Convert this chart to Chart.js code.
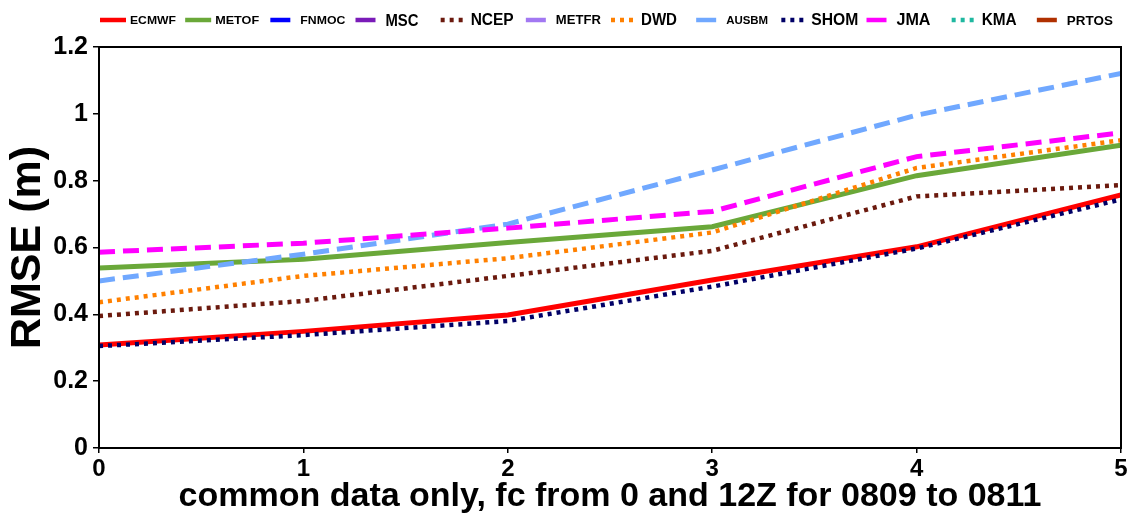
<!DOCTYPE html>
<html>
<head>
<meta charset="utf-8">
<script src="https://cdn.jsdelivr.net/npm/chart.js@4.4.0/dist/chart.umd.min.js"></script>
<style>
  html, body { margin: 0; padding: 0; background: #fff; }
  #wrap { width: 1130px; height: 515px; }
</style>
</head>
<body>
<div id="wrap"><canvas id="rmseChart"></canvas></div>
<script>
// forecast day on the x axis, RMSE (m) per centre
const fcDays = [0, 1, 2, 3, 4, 5];
const centres = ['ECMWF', 'METOF', 'FNMOC', 'MSC', 'NCEP', 'METFR', 'DWD', 'AUSBM', 'SHOM', 'JMA', 'KMA', 'PRTOS'];

const ecmwf = [0.308, 0.349, 0.398, 0.503, 0.602, 0.757];
const metof = [0.539, 0.565, 0.615, 0.662, 0.815, 0.906];
const fnmoc = [];
const msc   = [];
const ncep  = [0.395, 0.440, 0.515, 0.590, 0.753, 0.787];
const metfr = [];
const dwd   = [0.436, 0.515, 0.568, 0.645, 0.838, 0.921];
const ausbm = [0.500, 0.580, 0.670, 0.832, 0.996, 1.121];
const shom  = [0.305, 0.338, 0.380, 0.483, 0.597, 0.744];
const jma   = [0.586, 0.613, 0.658, 0.708, 0.872, 0.943];
const kma   = [];
const prtos = [];

const yTicks = [0, 0.2, 0.4, 0.6, 0.8, 1, 1.2];
const xTitle = 'common data only, fc from 0 and 12Z for 0809 to 0811';
const yTitle = 'RMSE (m)';

const seriesValues = [ecmwf, metof, fnmoc, msc, ncep, metfr, dwd, ausbm, shom, jma, kma, prtos];

const DOT = [4, 5];
const DASH = [16, 8];
const styles = {
  ECMWF: { color: '#ff0000', dash: [],   legendDash: [] },
  METOF: { color: '#6aa839', dash: [],   legendDash: [] },
  FNMOC: { color: '#0000ff', dash: DASH, legendDash: [20, 6] },
  MSC:   { color: '#7a1bb8', dash: DASH, legendDash: [20, 6] },
  NCEP:  { color: '#6b1a0e', dash: DOT,  legendDash: DOT },
  METFR: { color: '#a278f2', dash: DASH, legendDash: [20, 6] },
  DWD:   { color: '#ff8000', dash: DOT,  legendDash: DOT },
  AUSBM: { color: '#70a8ff', dash: DASH, legendDash: [20, 6] },
  SHOM:  { color: '#000066', dash: DOT,  legendDash: DOT },
  JMA:   { color: '#ff00ff', dash: DASH, legendDash: [20, 6] },
  KMA:   { color: '#1fb8a0', dash: DOT,  legendDash: DOT },
  PRTOS: { color: '#b03000', dash: DASH, legendDash: [20, 6] }
};

// legend text in the original is squeezed / stretched to fit each cell
const legendFontSize = [10, 11, 11, 17, 16, 12, 16, 10, 16, 16, 16, 13];
const legendTextWidth = [46, 44, 45, 33, 43, 45, 36, 42, 47, 34, 35, 46];

const FONT = "'Liberation Sans', Arial, sans-serif";

const datasets = centres.map((name, i) => {
  const st = styles[name];
  const dotted = st.dash === DOT;
  return {
    label: name,
    data: seriesValues[i].map((v, j) => ({ x: fcDays[j], y: v })),
    borderColor: st.color,
    backgroundColor: st.color,
    borderWidth: dotted ? 4.5 : 5,
    borderDash: st.dash,
    borderCapStyle: 'butt',
    legendDash: st.legendDash,
    pointRadius: 0,
    tension: 0,
    fill: false,
    order: centres.length - i
  };
});

const topLegend = {
  id: 'topLegend',
  afterDraw(chart) {
    const { ctx, chartArea } = chart;
    const cell = (chartArea.right - chartArea.left) / centres.length;
    chart.data.datasets.forEach((ds, i) => {
      const x0 = chartArea.left + 1 + cell * i;
      const y = 20;
      ctx.save();
      ctx.strokeStyle = ds.borderColor;
      ctx.lineWidth = 4.5;
      ctx.lineCap = 'butt';
      ctx.setLineDash(ds.legendDash);
      ctx.beginPath();
      ctx.moveTo(x0, y);
      ctx.lineTo(x0 + 26, y);
      ctx.stroke();
      ctx.restore();

      ctx.save();
      ctx.font = `bold ${legendFontSize[i]}px ${FONT}`;
      ctx.fillStyle = '#000';
      ctx.textBaseline = 'middle';
      const w = ctx.measureText(ds.label).width;
      ctx.translate(x0 + 30, y + 1);
      ctx.scale(legendTextWidth[i] / w, 1);
      ctx.fillText(ds.label, 0, 0);
      ctx.restore();
    });
  }
};

const frameBox = {
  id: 'frameBox',
  afterDatasetsDraw(chart) {
    const { ctx, chartArea } = chart;
    ctx.save();
    ctx.strokeStyle = '#000';
    ctx.lineWidth = 2;
    ctx.strokeRect(chartArea.left, chartArea.top, chartArea.right - chartArea.left, chartArea.bottom - chartArea.top);
    ctx.restore();
  }
};

const ctx = document.getElementById('rmseChart').getContext('2d');
const rmseChart = new Chart(ctx, {
  type: 'line',
  data: { datasets },
  plugins: [topLegend, frameBox],
  options: {
    responsive: true, maintainAspectRatio: false,
    animation: false,
    devicePixelRatio: 1,
    layout: { padding: { top: 47, right: 9, left: 0, bottom: 0 } },
    plugins: { legend: { display: false }, tooltip: { enabled: false } },
    scales: {
      x: {
        type: 'linear',
        min: fcDays[0], max: fcDays[fcDays.length - 1],
        afterBuildTicks: (scale) => { scale.ticks = fcDays.map(v => ({ value: v })); },
        afterFit: (scale) => { scale.height = 67; },
        grid: { display: true, drawOnChartArea: false, drawTicks: true, tickLength: 5, color: '#000', lineWidth: 1.5 },
        border: { display: true, color: '#000', width: 2 },
        ticks: { color: '#000', padding: 2, maxRotation: 0, font: { family: FONT, size: 24, weight: 'bold' } },
        title: {
          display: true, text: xTitle, color: '#000',
          font: { family: FONT, size: 34, weight: 'bold', lineHeight: 1 },
          padding: { top: 0, bottom: 1 }
        }
      },
      y: {
        type: 'linear',
        min: yTicks[0], max: yTicks[yTicks.length - 1],
        afterBuildTicks: (scale) => { scale.ticks = yTicks.map(v => ({ value: v })); },
        afterFit: (scale) => { scale.width = 99; },
        grid: { display: true, drawOnChartArea: false, drawTicks: true, tickLength: 6, color: '#000', lineWidth: 1.5 },
        border: { display: true, color: '#000', width: 2 },
        ticks: {
          color: '#000', padding: 5, font: { family: FONT, size: 25, weight: 'bold' },
          callback: (v) => String(Number(v.toFixed(1)))
        },
        title: {
          display: true, text: yTitle, color: '#000',
          font: { family: FONT, size: 43, weight: 'bold', lineHeight: 1.2 },
          padding: { top: 2, bottom: 0 }
        }
      }
    }
  }
});
</script>
</body>
</html>
